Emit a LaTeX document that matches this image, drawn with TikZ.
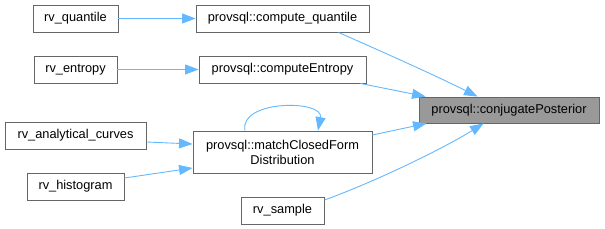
\documentclass[tikz,border=0pt]{standalone}
\usepackage{fontspec}
\setmainfont{Liberation Sans}
\usetikzlibrary{arrows.meta, calc}
\definecolor{doxEdge}{HTML}{63B8FF}
\definecolor{doxBorder}{HTML}{666666}
\definecolor{doxFocus}{HTML}{999999}

\begin{document}
\begin{tikzpicture}[
    x=1pt, y=-1pt,
    cgNode/.style={draw=doxBorder, line width=0.9pt, rectangle, fill=white, inner sep=0pt, align=center, font=\fontsize{12.8}{15}\selectfont, minimum height=27pt},
    cgFocus/.style={cgNode, fill=doxFocus, minimum height=26pt},
    cgEdge/.style={draw=doxEdge, line width=0.9pt, -{Triangle[length=13.5pt, width=10pt]}},
]
\useasboundingbox (0,0) rectangle (605,229);
% callers
\node[cgNode, minimum width=85pt]  (rvQuantile) at (75.5, 18.5)  {rv\_quantile};
\node[cgNode, minimum width=83pt]  (rvEntropy)  at (75.5, 69.5)  {rv\_entropy};
\node[cgNode, minimum width=141pt] (rvCurves)   at (75.5, 135.5) {rv\_analytical\_curves};
\node[cgNode, minimum width=97pt]  (rvHisto)    at (75.5, 186.5) {rv\_histogram};
% middle column
\node[cgNode, minimum width=173pt] (computeQ) at (282.5, 18.5)  {provsql::compute\_quantile};
\node[cgNode, minimum width=167pt] (computeE) at (282.5, 69.5)  {provsql::computeEntropy};
\node[cgNode, minimum width=179pt, minimum height=42pt] (matchCF) at (282.5, 152) {provsql::matchClosedForm\\Distribution};
\node[cgNode, minimum width=83pt]  (rvSample) at (282.5, 210.5) {rv\_sample};
% focus
\node[cgFocus, minimum width=180pt] (conjPost) at (509, 110) {provsql::conjugatePosterior};

\draw[cgEdge] (rvQuantile.east) -- (computeQ.west);
\draw[cgEdge] (rvEntropy.east) -- (computeE.west);
\draw[cgEdge] ($(rvCurves.east)+(0,6.5)$) -- ($(matchCF.west)+(0,-8)$);
\draw[cgEdge] ($(rvHisto.east)+(0,-8.5)$) -- ($(matchCF.west)+(0,16)$);
\draw[cgEdge] ($(matchCF.north)+(-37.5,0)$) .. controls +(-6,-31) and +(6,-31) .. ($(matchCF.north)+(35.5,0)$);
\draw[cgEdge] ($(computeQ.south east)+(-31,0)$) .. controls +(50,22) and +(-40,-20) .. ($(conjPost.north west)+(59,0)$);
\draw[cgEdge] ($(computeE.south east)+(-6,0)$) -- ($(conjPost.north west)+(7,0)$);
\draw[cgEdge] ($(matchCF.east)+(0,-17)$) -- ($(conjPost.south west)+(8,0)$);
\draw[cgEdge] ($(rvSample.east)+(0,-10.5)$) .. controls +(50,-18) and +(-40,25) .. ($(conjPost.south west)+(65,0)$);
\end{tikzpicture}
\end{document}
